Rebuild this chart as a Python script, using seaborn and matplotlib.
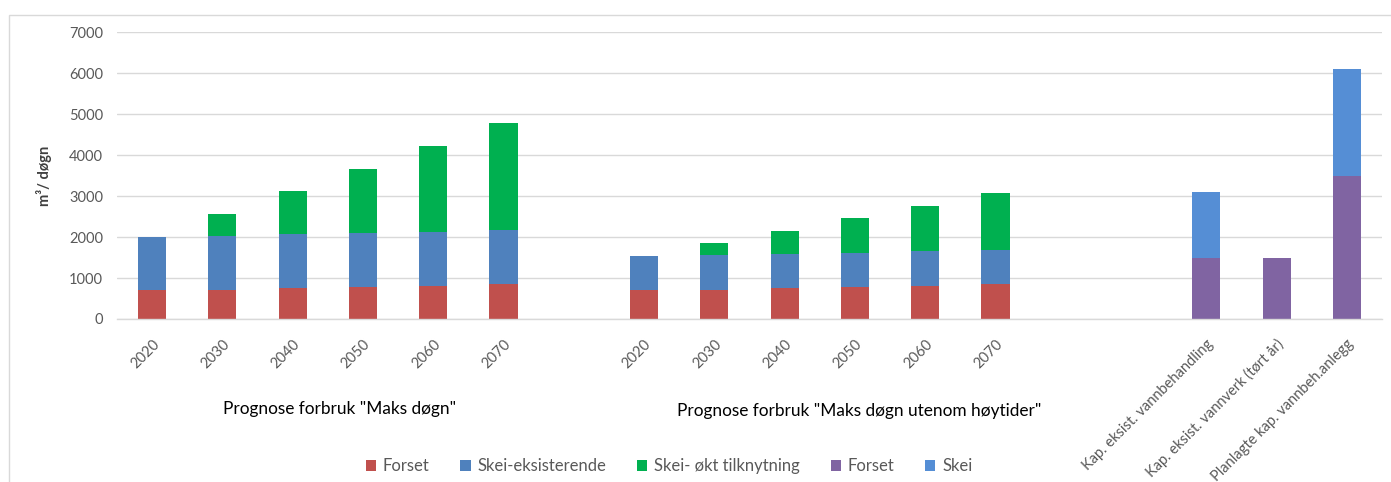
import numpy as np
import pandas as pd
import seaborn as sns
import matplotlib
matplotlib.use("Agg")
import matplotlib.pyplot as plt
from matplotlib.patches import Patch, Rectangle
from matplotlib.transforms import blended_transform_factory

# ---------------- data ----------------
years = ["2020", "2030", "2040", "2050", "2060", "2070"]
group_titles = ['Prognose forbruk "Maks døgn"', 'Prognose forbruk "Maks døgn utenom høytider"']

# Prognose "Maks døgn"
forset_maks = [700, 715, 755, 780, 815, 850]
skei_eks_maks = [1300, 1320, 1320, 1310, 1320, 1325]
skei_okt_maks = [0, 530, 1050, 1570, 2100, 2600]

# Prognose "Maks døgn utenom høytider"
forset_uh = [700, 715, 755, 780, 815, 850]
skei_eks_uh = [830, 850, 830, 830, 845, 840]
skei_okt_uh = [0, 280, 560, 850, 1100, 1390]

# Kapasitet
cap_labels = ["Kap. eksist. vannbehandling", "Kap. eksist. vannverk (tørt år)",
              "Planlagte kap. vannbeh.anlegg"]
cap_forset = [1500, 1500, 3500]
cap_skei = [1600, 0, 2600]

legend_labels = ["Forset", "Skei-eksisterende", "Skei- økt tilknytning", "Forset", "Skei"]
colors = ["#C0504D", "#4F81BD", "#00B050", "#8064A2", "#558ED5"]

# ---------------- build frames ----------------
keys_a = ["A" + y for y in years]
keys_b = ["B" + y for y in years]
keys_c = ["C%d" % i for i in range(len(cap_labels))]
order = keys_a + ["gap1"] + keys_b + ["gap2", "gap3"] + keys_c
tick_text = years + [""] + years + ["", ""] + cap_labels

prog = pd.DataFrame({
    "key": keys_a + keys_b,
    "forset": forset_maks + forset_uh,
    "skei_eks": skei_eks_maks + skei_eks_uh,
    "skei_okt": skei_okt_maks + skei_okt_uh,
})
prog["c1"] = prog["forset"]
prog["c2"] = prog["c1"] + prog["skei_eks"]
prog["c3"] = prog["c2"] + prog["skei_okt"]

cap = pd.DataFrame({"key": keys_c, "forset": cap_forset, "skei": cap_skei})
cap["c1"] = cap["forset"]
cap["c2"] = cap["c1"] + cap["skei"]

# ---------------- plot ----------------
sns.set_theme(style="white")
plt.rcParams["font.family"] = ["Lato", "DejaVu Sans"]

W, H = 1391, 482
fig = plt.figure(figsize=(W / 100, H / 100), dpi=100)
ax = fig.add_axes([117 / W, 163 / H, 1265 / W, 286.7 / H])

bw = 0.4
kw = dict(order=order, width=bw, saturation=1, ax=ax, errorbar=None, linewidth=0)
sns.barplot(data=prog, x="key", y="c3", color=colors[2], **kw)
sns.barplot(data=prog, x="key", y="c2", color=colors[1], **kw)
sns.barplot(data=prog, x="key", y="c1", color=colors[0], **kw)
sns.barplot(data=cap, x="key", y="c2", color=colors[4], **kw)
sns.barplot(data=cap, x="key", y="c1", color=colors[3], **kw)

ax.set_xlim(-0.5, len(order) - 0.5)
ax.set_ylim(0, 7000)
ax.set_yticks(np.arange(0, 7001, 1000))
ax.yaxis.grid(True, color="#D9D9D9", linewidth=1.0)
ax.set_axisbelow(True)
for s in ["top", "right", "left"]:
    ax.spines[s].set_visible(False)
ax.spines["bottom"].set_color("#D9D9D9")
ax.spines["bottom"].set_linewidth(1.0)

ax.set_xticks(range(len(order)))
ax.set_xticklabels(tick_text, rotation=45, ha="right", rotation_mode="anchor",
                   fontsize=10.5, color="#595959")
ax.tick_params(axis="x", length=0, pad=13)
ax.tick_params(axis="y", length=0, pad=10, labelsize=10.5, labelcolor="#595959")
ax.set_xlabel("")
ax.set_ylabel("m³/ døgn", fontsize=10.5, fontweight="bold", color="#404040", labelpad=12)

# group titles under the categories
tr = blended_transform_factory(ax.transData, fig.transFigure)
ax.text(2.66, (H - 409) / H, group_titles[0], transform=tr, ha="center", va="center",
        fontsize=12.4, color="#000000")
ax.text(10.06, (H - 411) / H, group_titles[1], transform=tr, ha="center", va="center",
        fontsize=12.4, color="#000000")

# legend
handles = [Patch(facecolor=c, edgecolor="none", label=l) for c, l in zip(colors, legend_labels)]
fig.legend(handles=handles, loc="center", bbox_to_anchor=(669 / W, (H - 466) / H), ncol=5,
           frameon=False, fontsize=12, handlelength=0.62, handleheight=0.62,
           handletextpad=0.4, columnspacing=1.85, labelcolor="#595959")

# chart-area border
fig.patches.append(Rectangle((9 / W, -0.1), 1.2, (H - 15) / H + 0.1, transform=fig.transFigure,
                             fill=False, edgecolor="#D9D9D9", linewidth=1.0))

fig.savefig("out.png", dpi=100, facecolor="white")
